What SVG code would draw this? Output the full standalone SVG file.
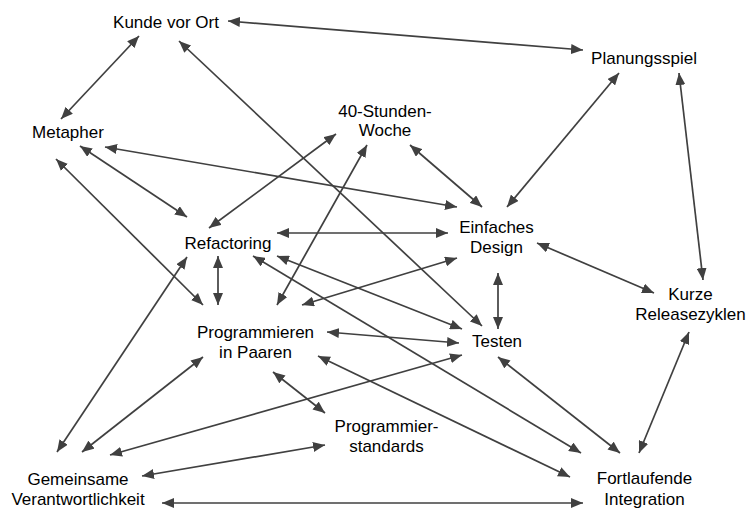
<svg xmlns="http://www.w3.org/2000/svg" width="748" height="510" viewBox="0 0 748 510">
<defs>
<marker id="ah" viewBox="0 0 12 10" refX="12" refY="5" markerWidth="12" markerHeight="10" markerUnits="userSpaceOnUse" orient="auto-start-reverse">
<path d="M0,0 L12,5 L0,10 z" fill="#404040"/>
</marker>
<style>
.e line{stroke:#404040;stroke-width:1.7;fill:none;marker-start:url(#ah);marker-end:url(#ah)}
text{font-family:"Liberation Sans",Arial,sans-serif;font-size:17px;fill:#000;text-anchor:middle}
</style>
</defs>
<rect width="748" height="510" fill="#fff"/>
<g id="connectors" class="e">
<line x1="228" y1="21" x2="583" y2="50"/>
<line x1="139" y1="36" x2="61" y2="119"/>
<line x1="179" y1="41" x2="482" y2="326"/>
<line x1="619" y1="73" x2="507" y2="207"/>
<line x1="679" y1="73" x2="703" y2="280"/>
<line x1="105" y1="147" x2="457" y2="207"/>
<line x1="80" y1="146" x2="187" y2="217"/>
<line x1="56" y1="159" x2="203" y2="305"/>
<line x1="336" y1="134" x2="209" y2="228"/>
<line x1="367" y1="145" x2="277" y2="305"/>
<line x1="410" y1="145" x2="482" y2="207"/>
<line x1="277" y1="233" x2="448" y2="233"/>
<line x1="218" y1="256" x2="218" y2="305"/>
<line x1="277" y1="256" x2="462" y2="329"/>
<line x1="253" y1="256" x2="581" y2="453"/>
<line x1="457" y1="258" x2="302" y2="305"/>
<line x1="498" y1="273" x2="498" y2="329"/>
<line x1="537" y1="243" x2="654" y2="293"/>
<line x1="327" y1="332" x2="459" y2="343"/>
<line x1="273" y1="372" x2="325" y2="413"/>
<line x1="318" y1="356" x2="570" y2="477"/>
<line x1="203" y1="357" x2="82" y2="452"/>
<line x1="187" y1="257" x2="57" y2="452"/>
<line x1="462" y1="355" x2="110" y2="455"/>
<line x1="498" y1="357" x2="620" y2="453"/>
<line x1="689" y1="332" x2="639" y2="453"/>
<line x1="325" y1="445" x2="142" y2="476"/>
<line x1="162" y1="503" x2="583" y2="503"/>
</g>
<g id="kunde"><text x="166" y="28">Kunde vor Ort</text></g>
<g id="planungsspiel"><text x="644" y="64">Planungsspiel</text></g>
<g id="metapher"><text x="68" y="138">Metapher</text></g>
<g id="woche"><text x="385" y="117">40-Stunden-</text><text x="385" y="136">Woche</text></g>
<g id="refactoring"><text x="228" y="249">Refactoring</text></g>
<g id="design"><text x="496.5" y="233">Einfaches</text><text x="496.5" y="253">Design</text></g>
<g id="paare"><text x="255.5" y="338">Programmieren</text><text x="255.5" y="358">in Paaren</text></g>
<g id="testen"><text x="497" y="347">Testen</text></g>
<g id="kurze"><text x="690.5" y="300">Kurze</text><text x="690.5" y="320">Releasezyklen</text></g>
<g id="standards"><text x="386.5" y="432">Programmier-</text><text x="386.5" y="452">standards</text></g>
<g id="gemeinsam"><text x="78" y="485">Gemeinsame</text><text x="78" y="505">Verantwortlichkeit</text></g>
<g id="integration"><text x="644.5" y="484">Fortlaufende</text><text x="644.5" y="505">Integration</text></g>
</svg>
